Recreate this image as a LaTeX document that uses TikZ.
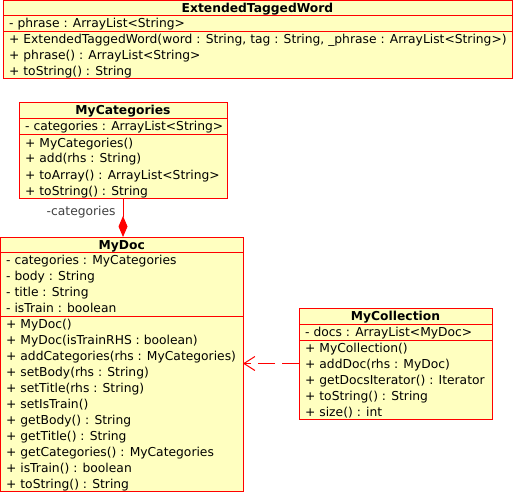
\documentclass[tikz,border=0pt]{standalone}
\usepackage{fontspec}
\setmainfont{DejaVu Sans}
\usetikzlibrary{arrows.meta}
\definecolor{umlfill}{RGB}{255,255,192}
\definecolor{umlline}{RGB}{255,0,0}
\definecolor{labelgray}{RGB}{64,64,64}
\begin{document}
\begin{tikzpicture}[x=1pt,y=-1pt,
  classbox/.style={draw=umlline, fill=umlfill, line width=1pt, rectangle, inner sep=0pt, outer sep=0pt, anchor=north west},
  divider/.style={draw=umlline, line width=1pt},
  title/.style={anchor=base, inner sep=0pt, font=\fontsize{12.3}{15}\selectfont\bfseries},
  member/.style={anchor=base west, inner sep=0pt, font=\fontsize{12.3}{15}\selectfont},
  rolelabel/.style={anchor=base west, inner sep=0pt, text=labelgray, font=\fontsize{12.3}{15}\selectfont},
  conn/.style={draw=umlline, line width=1pt}]
\useasboundingbox (0,0) rectangle (514,492);

% ExtendedTaggedWord
\node[classbox, minimum width=509pt, minimum height=78pt] (etw) at (3,1) {};
\draw[divider] (etw.west |- 0,16) -- (etw.east |- 0,16);
\draw[divider] (etw.west |- 0,32) -- (etw.east |- 0,32);
\node[title] (etw-t) at (257.5,13) {ExtendedTaggedWord};
\node[member] (etw-a1) at (9,28) {- phrase : ArrayList<String>};
\node[member] (etw-m1) at (9,44) {+ ExtendedTaggedWord(word : String, tag : String, \_phrase : ArrayList<String>)};
\node[member] (etw-m2) at (9,60) {+ phrase() : ArrayList<String>};
\node[member] (etw-m3) at (9,76) {+ toString() : String};

% MyCategories
\node[classbox, minimum width=208pt, minimum height=95pt] (mycat) at (19,103) {};
\draw[divider] (mycat.west |- 0,119) -- (mycat.east |- 0,119);
\draw[divider] (mycat.west |- 0,135) -- (mycat.east |- 0,135);
\node[title] (mycat-t) at (123,115) {MyCategories};
\node[member] (mycat-a1) at (25,131) {- categories : ArrayList<String>};
\node[member] (mycat-m1) at (25,147) {+ MyCategories()};
\node[member] (mycat-m2) at (25,163) {+ add(rhs : String)};
\node[member] (mycat-m3) at (25,179) {+ toArray() : ArrayList<String>};
\node[member] (mycat-m4) at (25,195) {+ toString() : String};

% MyDoc
\node[classbox, minimum width=242.5pt, minimum height=254pt] (mydoc) at (0.5,237) {};
\draw[divider] (mydoc.west |- 0,252) -- (mydoc.east |- 0,252);
\draw[divider] (mydoc.west |- 0,316) -- (mydoc.east |- 0,316);
\node[title] (mydoc-t) at (121.75,249) {MyDoc};
\node[member] (mydoc-a1) at (6,264) {- categories : MyCategories};
\node[member] (mydoc-a2) at (6,280) {- body : String};
\node[member] (mydoc-a3) at (6,296) {- title : String};
\node[member] (mydoc-a4) at (6,312) {- isTrain : boolean};
\node[member] (mydoc-m1) at (6,328) {+ MyDoc()};
\node[member] (mydoc-m2) at (6,344) {+ MyDoc(isTrainRHS : boolean)};
\node[member] (mydoc-m3) at (6,360) {+ addCategories(rhs : MyCategories)};
\node[member] (mydoc-m4) at (6,376) {+ setBody(rhs : String)};
\node[member] (mydoc-m5) at (6,392) {+ setTitle(rhs : String)};
\node[member] (mydoc-m6) at (6,408) {+ setIsTrain()};
\node[member] (mydoc-m7) at (6,424) {+ getBody() : String};
\node[member] (mydoc-m8) at (6,440) {+ getTitle() : String};
\node[member] (mydoc-m9) at (6,456) {+ getCategories() : MyCategories};
\node[member] (mydoc-m10) at (6,472) {+ isTrain() : boolean};
\node[member] (mydoc-m11) at (6,488) {+ toString() : String};

% MyCollection
\node[classbox, minimum width=193pt, minimum height=111pt] (mycoll) at (299,308) {};
\draw[divider] (mycoll.west |- 0,324) -- (mycoll.east |- 0,324);
\draw[divider] (mycoll.west |- 0,340) -- (mycoll.east |- 0,340);
\node[title] (mycoll-t) at (395.5,320) {MyCollection};
\node[member] (mycoll-a1) at (305,336) {- docs : ArrayList<MyDoc>};
\node[member] (mycoll-m1) at (305,352) {+ MyCollection()};
\node[member] (mycoll-m2) at (305,368) {+ addDoc(rhs : MyDoc)};
\node[member] (mycoll-m3) at (305,384) {+ getDocsIterator() : Iterator};
\node[member] (mycoll-m4) at (305,400) {+ toString() : String};
\node[member] (mycoll-m5) at (305,416) {+ size() : int};

% composition MyCategories -> MyDoc
\draw[conn, -{Diamond[length=21pt, width=9pt]}] (mycat.south) -- (mycat.south |- mydoc.north);
\node[rolelabel] (catlabel) at (46.5,215) {-categories};

% dependency MyCollection -> MyDoc
\draw[conn, dash pattern=on 17pt off 7pt, -{Straight Barb[length=11pt, width=14pt]}] (mycoll.west) -- (mycoll.west -| mydoc.east);
\end{tikzpicture}
\end{document}
